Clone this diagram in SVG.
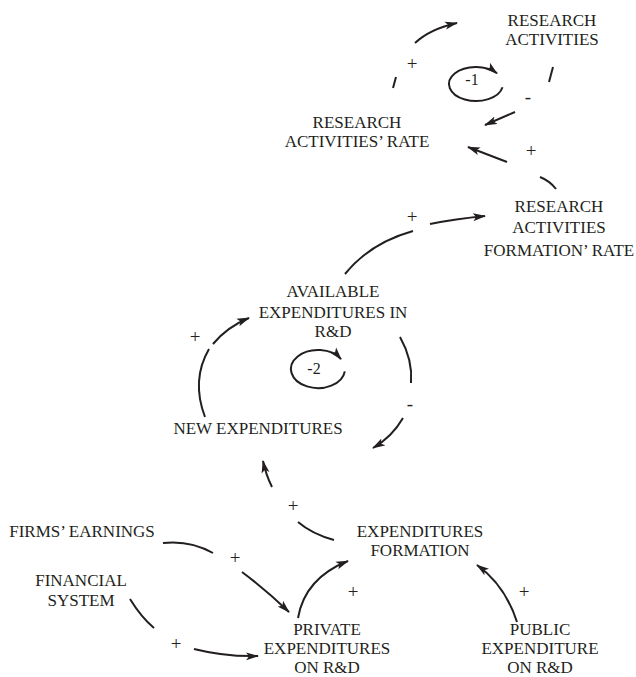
<svg xmlns="http://www.w3.org/2000/svg" width="636" height="677" viewBox="0 0 636 677">
<defs>
<style>
text{font-family:"Liberation Serif","Times New Roman",serif;font-size:17px;fill:#231f20;text-anchor:middle}
.sign{font-size:19px}
.loop{font-size:16px}
.c path{fill:none;stroke:#231f20;stroke-width:2;stroke-linecap:butt}
.c .a{marker-end:url(#ah)}
</style>
<marker id="ah" markerUnits="userSpaceOnUse" markerWidth="14" markerHeight="9" refX="12" refY="4.5" orient="auto">
<path d="M0,0.5 L13,4.5 L0,8.5 L3,4.5 z" fill="#231f20"/>
</marker>
</defs>
<rect width="636" height="677" fill="#fff"/>
<g id="connectors" class="c">
<path d="M393,88 L396,77"/>
<path class="a" d="M415,43 Q430,29 457,23"/>
<path d="M553,67 L549,82"/>
<path class="a" d="M515,112 L485,125"/>
<path d="M540,177 Q550,181 556,189"/>
<path class="a" d="M507,162 L468,147"/>
<path d="M345,274 Q370,243 413,231"/>
<path class="a" d="M430,224 Q455,219 485,216"/>
<path d="M205,417 Q191,380 209,349"/>
<path class="a" d="M213,344 Q227,327 249,318"/>
<path d="M400,337 Q413,360 411,383"/>
<path class="a" d="M403,418 Q392,437 373,448"/>
<path d="M334,540 Q312,534 298,522"/>
<path class="a" d="M272,487 Q266,475 263,461"/>
<path d="M163,543 Q190,540 213,553"/>
<path class="a" d="M242,572 Q266,590 289,612"/>
<path d="M130,599 Q141,617 154,628"/>
<path class="a" d="M194,649 Q226,657 258,656"/>
<path class="a" d="M298,618 Q305,578 348,561"/>
<path class="a" d="M517,622 Q505,585 477,565"/>
<path class="a" d="M502.5,87.3 A27,17 0 1 1 497,73.3"/>
<path class="a" d="M344.8,371.3 A27,19 0 1 1 341,359.1"/>
</g>
<g id="signs">
<text class="sign" x="412" y="70">+</text>
<text class="sign" x="531" y="157">+</text>
<text class="sign" x="412" y="223">+</text>
<text class="sign" x="195" y="343">+</text>
<text class="sign" x="293" y="512">+</text>
<text class="sign" x="235" y="564">+</text>
<text class="sign" x="176" y="650">+</text>
<text class="sign" x="353" y="598">+</text>
<text class="sign" x="524" y="598">+</text>
<text class="sign" x="528" y="103">-</text>
<text class="sign" x="410" y="410">-</text>
<text class="loop" x="472" y="85">-1</text>
<text class="loop" x="314" y="374">-2</text>
</g>
<g id="research-activities"><text x="552" y="26">RESEARCH</text><text x="552" y="45">ACTIVITIES</text></g>
<g id="research-activities-rate"><text x="357" y="128">RESEARCH</text><text x="357" y="147">ACTIVITIES’ RATE</text></g>
<g id="research-activities-formation-rate"><text x="559" y="212">RESEARCH</text><text x="559" y="233">ACTIVITIES</text><text x="559" y="256">FORMATION’ RATE</text></g>
<g id="available-expenditures"><text x="333" y="297">AVAILABLE</text><text x="333" y="318">EXPENDITURES IN</text><text x="333" y="337">R&amp;D</text></g>
<g id="new-expenditures"><text x="258" y="434">NEW EXPENDITURES</text></g>
<g id="firms-earnings"><text x="82" y="537">FIRMS’ EARNINGS</text></g>
<g id="financial-system"><text x="81" y="586">FINANCIAL</text><text x="81" y="606">SYSTEM</text></g>
<g id="expenditures-formation"><text x="420" y="537">EXPENDITURES</text><text x="420" y="556">FORMATION</text></g>
<g id="private-expenditures"><text x="327" y="635">PRIVATE</text><text x="327" y="654">EXPENDITURES</text><text x="327" y="673">ON R&amp;D</text></g>
<g id="public-expenditure"><text x="540" y="635">PUBLIC</text><text x="540" y="654">EXPENDITURE</text><text x="540" y="673">ON R&amp;D</text></g>
</svg>
